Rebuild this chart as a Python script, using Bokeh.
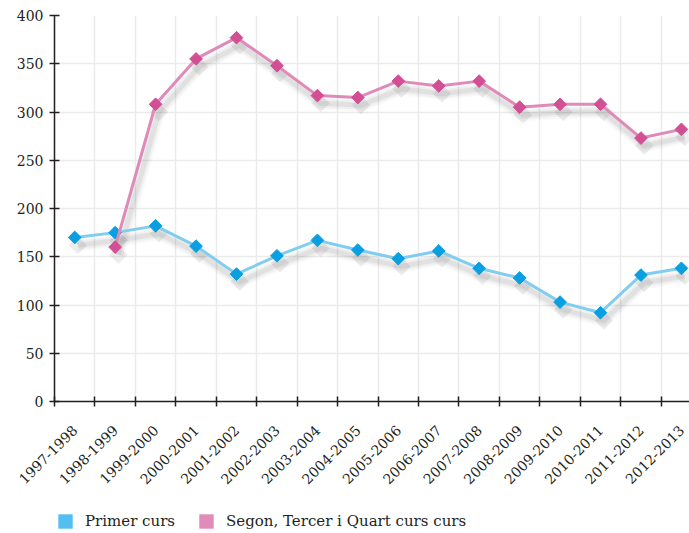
import math
import numpy as np
from bokeh.plotting import figure
from bokeh.layouts import column
from bokeh.models import Range1d, FixedTicker, Legend, LegendItem
from bokeh.embed import file_html
from bokeh.resources import INLINE

cursos = ["1997-1998", "1998-1999", "1999-2000", "2000-2001", "2001-2002",
          "2002-2003", "2003-2004", "2004-2005", "2005-2006", "2006-2007",
          "2007-2008", "2008-2009", "2009-2010", "2010-2011", "2011-2012",
          "2012-2013"]
primer_curs = [170, 175, 182, 161, 132, 151, 167, 157, 148, 156, 138, 128, 103, 92, 131, 138]
segon_curs = [float("nan"), 160, 308, 355, 377, 348, 317, 315, 332, 327, 332, 305, 308, 308, 273, 282]
y_ticks = [0, 50, 100, 150, 200, 250, 300, 350, 400]
series_names = ["Primer curs", "Segon, Tercer i Quart curs curs"]

FONT = "DejaVu Serif"
TXT = "#231f20"
BLUE_LINE, BLUE_MARK, BLUE_SW = "#80cdf0", "#0a9fe0", "#52bff0"
PINK_LINE, PINK_MARK, PINK_SW = "#e08ab9", "#d24f93", "#e08bb8"

n = len(cursos)
xs = np.arange(n) + 0.5

p = figure(width=689, height=494, x_range=Range1d(0, 15.7), y_range=Range1d(0, 400),
           output_backend="svg", toolbar_location=None,
           min_border_left=54, min_border_right=0, min_border_top=15, min_border_bottom=93)
p.outline_line_color = None
p.background_fill_color = "white"

# shadows
for ys in (primer_curs, segon_curs):
    sx = xs + 0.08
    sy = np.array(ys, dtype=float) - 8
    for w, a in ((13, 0.025), (9, 0.04), (5, 0.055)):
        p.line(sx, sy, line_color="black", line_width=w, line_alpha=a, line_join="round")
    p.scatter(sx, sy, marker="square", angle=math.pi / 4, size=13, fill_color="black",
              fill_alpha=0.07, line_color=None)

p.line(xs, primer_curs, line_color=BLUE_LINE, line_width=3)
p.scatter(xs, primer_curs, marker="square", angle=math.pi / 4, size=9,
          fill_color=BLUE_MARK, line_color=BLUE_MARK, line_width=1)
p.line(xs, segon_curs, line_color=PINK_LINE, line_width=3)
p.scatter(xs, segon_curs, marker="square", angle=math.pi / 4, size=9,
          fill_color=PINK_MARK, line_color=PINK_MARK, line_width=1)

# axes
xa = p.xaxis[0]
xa.ticker = FixedTicker(ticks=list(xs), minor_ticks=list(range(0, n + 1)))
xa.major_label_overrides = {float(x): c for x, c in zip(xs, cursos)}
xa.major_label_orientation = math.pi / 4
xa.major_tick_line_color = None
xa.minor_tick_in = 5
xa.minor_tick_out = 5
xa.minor_tick_line_color = TXT
xa.minor_tick_line_width = 1.5
xa.axis_line_color = TXT
xa.axis_line_width = 1.5
xa.major_label_text_font = FONT
xa.major_label_text_font_size = "14px"
xa.major_label_text_color = TXT
xa.major_label_standoff = 20

ya = p.yaxis[0]
ya.ticker = FixedTicker(ticks=y_ticks)
ya.major_tick_in = 5
ya.major_tick_out = 5
ya.major_tick_line_color = TXT
ya.major_tick_line_width = 1.5
ya.minor_tick_line_color = None
ya.axis_line_color = TXT
ya.axis_line_width = 1.5
ya.major_label_text_font = FONT
ya.major_label_text_font_size = "14px"
ya.major_label_text_color = TXT
ya.major_label_standoff = 6

p.xgrid.grid_line_color = None
p.xgrid.minor_grid_line_color = "#ebebeb"
p.xgrid.minor_grid_line_width = 1.5
p.ygrid.grid_line_color = "#ebebeb"
p.ygrid.grid_line_width = 1.5

# legend in its own strip below
lf = figure(width=689, height=39, x_range=Range1d(0, 1), y_range=Range1d(0, 1),
            output_backend="svg", toolbar_location=None,
            min_border_left=0, min_border_right=0, min_border_top=0, min_border_bottom=0)
lf.axis.visible = False
lf.grid.visible = False
lf.outline_line_color = None
nan = float("nan")
r1 = lf.quad(left=[nan], right=[nan], top=[nan], bottom=[nan], fill_color=BLUE_SW, line_color=None)
r2 = lf.quad(left=[nan], right=[nan], top=[nan], bottom=[nan], fill_color=PINK_SW, line_color=None)
legend = Legend(items=[LegendItem(label=series_names[0], renderers=[r1]),
                       LegendItem(label=series_names[1], renderers=[r2])],
                orientation="horizontal", location=(2, 3),
                glyph_width=18, glyph_height=18, label_height=18, label_standoff=11, spacing=22,
                padding=0, margin=0, border_line_color=None, background_fill_alpha=0,
                label_text_font=FONT, label_text_font_size="15px", label_text_color=TXT)
lf.add_layout(legend, "center")

layout = column(p, lf, spacing=0)
open("out.html", "w").write(file_html(layout, INLINE))
